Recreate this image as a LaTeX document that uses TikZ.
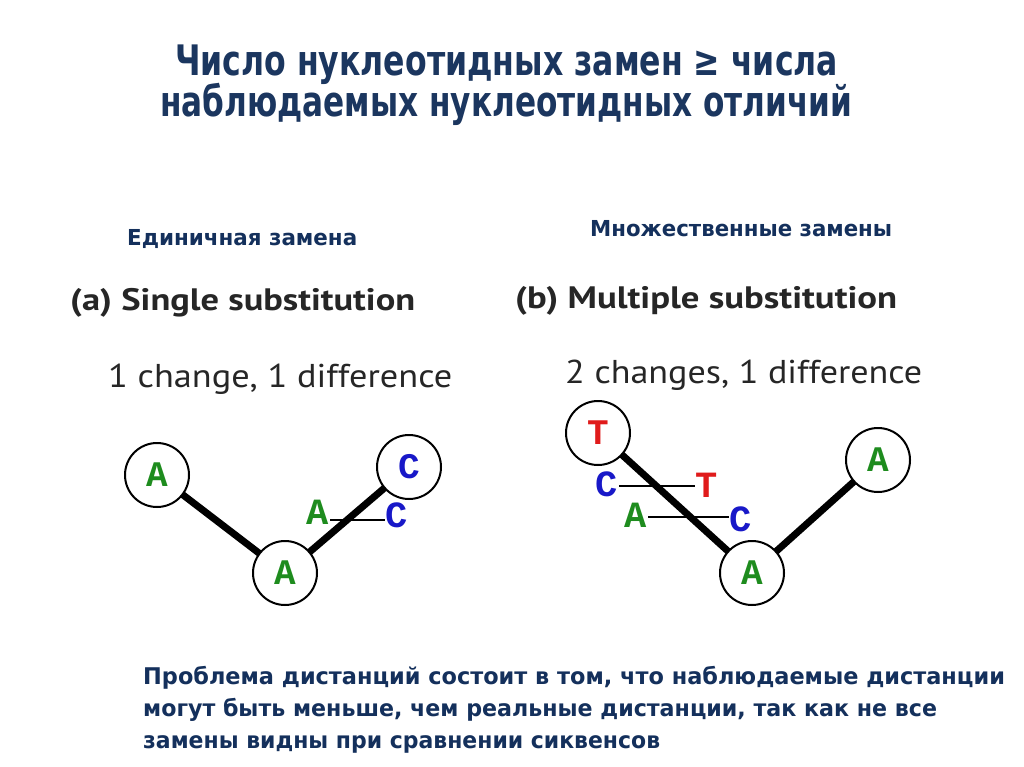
\documentclass[tikz,border=0pt]{standalone}
\usepackage{fontspec}
\usepackage{graphicx}
\setmainfont{DejaVu Sans}
\newfontfamily\titlefont{DejaVu Sans Condensed}
\newfontfamily\ptfont{PT Sans}
\newfontfamily\basefont{Liberation Mono}
\newfontfamily\bodyfont{DejaVu Sans Condensed}
\newcommand\fitw[2]{\resizebox{#1}{\height}{#2}}
\definecolor{navy}{HTML}{1B365F}
\definecolor{subnavy}{HTML}{14305C}
\definecolor{gA}{HTML}{1E8C1E}
\definecolor{bC}{HTML}{1818C8}
\definecolor{rT}{HTML}{E01B1B}
\begin{document}
\begin{tikzpicture}[x=1pt,y=-1pt,
  title/.style={anchor=base west,inner sep=0,text=navy,font=\titlefont\bfseries\fontsize{42}{48}\selectfont},
  sub/.style={anchor=base west,inner sep=0,text=subnavy,font=\bodyfont\bfseries\fontsize{22}{26}\selectfont},
  head/.style={anchor=base west,inner sep=0,text=black!85,font=\ptfont\bfseries\fontsize{31}{36}\selectfont},
  cnt/.style={anchor=base west,inner sep=0,text=black!85,font=\ptfont\fontsize{33}{38}\selectfont},
  body/.style={anchor=base west,inner sep=0,text=subnavy,font=\bodyfont\bfseries\fontsize{23}{28}\selectfont},
  taxon/.style={circle,draw=black,line width=2pt,minimum size=64pt,inner sep=0,fill=white,
    font=\basefont\bfseries\fontsize{36}{36}\selectfont},
  base/.style={inner sep=1pt,text height=21pt,text depth=0pt,font=\basefont\bfseries\fontsize{37}{37}\selectfont},
  branch/.style={line width=7pt},
  bar/.style={line width=2pt}]
\useasboundingbox (0,0) rectangle (1024,767);
\fill[white] (0,0) rectangle (1024,767);
% title
\node[title] (t1) at (175,76) {\fitw{663pt}{Число нуклеотидных замен ≥ числа}};
\node[title] (t2) at (160,117) {\fitw{692pt}{наблюдаемых нуклеотидных отличий}};
% subtitles
\node[sub] (s1) at (127,245) {\fitw{230pt}{Единичная замена}};
\node[sub] (s2) at (590,236) {\fitw{302pt}{Множественные замены}};
% headings
\node[head] (h1) at (70,310) {\fitw{345pt}{(a) Single substitution}};
\node[head] (h2) at (515,308) {\fitw{382pt}{(b) Multiple substitution}};
\node[cnt] (c1) at (108,387) {\fitw{344pt}{1 change, 1 difference}};
\node[cnt] (c2) at (565,383) {\fitw{357pt}{2 changes, 1 difference}};
% (a) tree
\draw[branch] (157,475) -- (285,573);
\draw[branch] (285,573) -- (409,467);
\node[taxon,text=gA] (a1) at (157,475) {A};
\node[taxon,text=gA] (a2) at (285,573) {A};
\node[taxon,text=bC] (a3) at (409,467) {C};
\node[base,text=gA] (la) at (318,514) {A};
\node[base,text=bC] (lc) at (397,517) {C};
\draw[bar] ([yshift=-6pt]la.east) -- ([yshift=-6pt]la.east -| lc.west);
% (b) tree
\draw[branch] (598,433) -- (752,573);
\draw[branch] (752,573) -- (878,460);
\node[taxon,text=rT] (b1) at (598,433) {T};
\node[taxon,text=gA] (b2) at (752,573) {A};
\node[taxon,text=gA] (b3) at (878,460) {A};
\node[base,text=bC] (m1) at (607,486) {C};
\node[base,text=rT] (m2) at (707,487) {T};
\node[base,text=gA] (m3) at (636,517) {A};
\node[base,text=bC] (m4) at (741,521) {C};
\draw[bar] (m1.east) -- (m1.east -| m2.west);
\draw[bar] (m3.east) -- (m3.east -| m4.west);
% body
\node[body] (p1) at (143,684) {\fitw{862pt}{Проблема дистанций состоит в том, что наблюдаемые дистанции}};
\node[body] (p2) at (143,716) {\fitw{794pt}{могут быть меньше, чем реальные дистанции, так как не все}};
\node[body] (p3) at (143,748) {\fitw{517pt}{замены видны при сравнении сиквенсов}};
\end{tikzpicture}
\end{document}
